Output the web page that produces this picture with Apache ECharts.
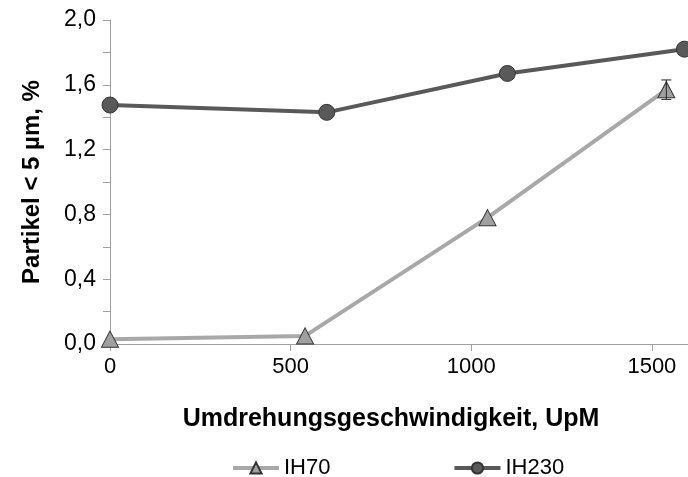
<!DOCTYPE html>
<html>
<head>
<meta charset="utf-8" />
<title>Partikel</title>
<script src="https://cdn.jsdelivr.net/npm/echarts@6/dist/echarts.min.js"></script>
<style>
	html, body { margin: 0; padding: 0; background: #fff; }
	#chart { width: 688px; height: 477px; }
</style>
</head>
<body>
<div id="chart"></div>
<script type="text/javascript">
	var ih70X = [0, 540, 1045, 1540];
	var ih70Y = [0.03, 0.05, 0.78, 1.57];
	var ih70Err = [0, 0, 0, 0.06];
	var ih230X = [0, 600, 1100, 1590];
	var ih230Y = [1.475, 1.43, 1.67, 1.82];

	var seriesNames = ['IH70', 'IH230'];
	var xTitle = 'Umdrehungsgeschwindigkeit, UpM';
	var yTitle = 'Partikel < 5 µm, %';

	var font = 'Liberation Sans, Arial, sans-serif';

	function pairs(xs, ys) {
		var out = [];
		for (var i = 0; i < xs.length; i++) out.push([xs[i], ys[i]]);
		return out;
	}

	var errData = [];
	for (var i = 0; i < ih70X.length; i++) {
		if (ih70Err[i] > 0) errData.push([ih70X[i], ih70Y[i] - ih70Err[i], ih70Y[i] + ih70Err[i]]);
	}

	var myChart = echarts.init(document.getElementById('chart'));

	var option = {
		animation: false,
		grid: { left: 110, right: 0, top: 20, bottom: 133 },
		legend: {
			data: [
				{ name: seriesNames[0], lineStyle: { width: 4, color: '#a8a8a8' } },
				{ name: seriesNames[1], lineStyle: { width: 4, color: '#595959' } }
			],
			top: 452,
			left: 226,
			itemWidth: 46,
			itemHeight: 14,
			itemGap: 122,
			textStyle: { fontFamily: font, fontSize: 22, color: '#000' }
		},
		xAxis: {
			type: 'value',
			min: 0,
			max: 1600,
			interval: 500,
			name: xTitle,
			nameLocation: 'middle',
			nameGap: 63,
			nameTextStyle: { fontFamily: font, fontSize: 25, fontWeight: 'bold', color: '#000', padding: [0, 16, 0, 0] },
			axisLine: { lineStyle: { color: '#a0a0a0', width: 1 } },
			axisTick: { show: true, length: 7, lineStyle: { color: '#a0a0a0' } },
			axisLabel: {
				fontFamily: font, fontSize: 22, color: '#000', margin: 12,
				showMaxLabel: false,
				formatter: function (v) { return v % 500 === 0 ? String(v) : ''; }
			},
			splitLine: { show: false }
		},
		yAxis: {
			type: 'value',
			min: 0,
			max: 2,
			interval: 0.4,
			name: yTitle,
			nameLocation: 'middle',
			nameGap: 66,
			nameTextStyle: { fontFamily: font, fontSize: 24, fontWeight: 'bold', color: '#000' },
			axisLine: { show: true, lineStyle: { color: '#a0a0a0', width: 1 } },
			axisTick: { show: true, length: 7, lineStyle: { color: '#a0a0a0' } },
			minorTick: { show: true, splitNumber: 2, length: 7, lineStyle: { color: '#a0a0a0' } },
			axisLabel: {
				fontFamily: font, fontSize: 23, color: '#000', margin: 14,
				formatter: function (v) { return v.toFixed(1).replace('.', ','); }
			},
			splitLine: { show: false }
		},
		series: [
			{
				name: 'IH70',
				type: 'line',
				data: pairs(ih70X, ih70Y),
				symbol: 'triangle',
				symbolSize: [17, 16],
				lineStyle: { color: '#a8a8a8', width: 4 },
				itemStyle: { color: '#a0a0a0', borderColor: '#333', borderWidth: 1 },
				z: 3
			},
			{
				name: 'IH230',
				type: 'line',
				data: pairs(ih230X, ih230Y),
				symbol: 'circle',
				symbolSize: 16,
				lineStyle: { color: '#595959', width: 4 },
				itemStyle: { color: '#595959', borderColor: '#333', borderWidth: 1 },
				z: 3
			},
			{
				type: 'custom',
				data: errData,
				z: 4,
				renderItem: function (params, api) {
					var x = api.value(0);
					var lo = api.coord([x, api.value(1)]);
					var hi = api.coord([x, api.value(2)]);
					var w = 5;
					var st = { stroke: '#222', lineWidth: 1 };
					return {
						type: 'group',
						children: [
							{ type: 'line', shape: { x1: lo[0], y1: lo[1], x2: hi[0], y2: hi[1] }, style: st },
							{ type: 'line', shape: { x1: lo[0] - w, y1: lo[1], x2: lo[0] + w, y2: lo[1] }, style: st },
							{ type: 'line', shape: { x1: hi[0] - w, y1: hi[1], x2: hi[0] + w, y2: hi[1] }, style: st }
						]
					};
				}
			}
		]
	};

	myChart.setOption(option);
</script>
</body>
</html>
